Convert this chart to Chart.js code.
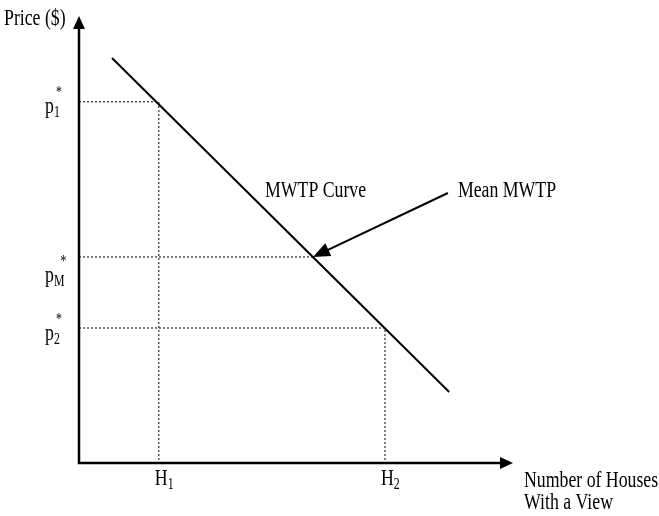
<!DOCTYPE html>
<html>
<head>
<meta charset="utf-8">
<script src="https://cdn.jsdelivr.net/npm/chart.js@4.4.0/dist/chart.umd.min.js"></script>
<style>
  body { margin: 0; background: #fff; }
  canvas { display: block; }
</style>
</head>
<body>
<canvas id="myChart" width="659" height="516"></canvas>
<script>
// the MWTP curve, two ends
const curveX = [0.76, 8.53];
const curveY = [9.06, 1.59];
// quantities on the x axis
const hValues = [1.84, 7.05];
const hSubs = ["1", "2"];
// prices on the y axis (p1, pM, p2)
const pValues = [8.08, 4.61, 3.02];
const pSubs = ["1", "M", "2"];
// where the mean MWTP sits on the curve
const meanX = 5.39;
const meanP = 4.61;
// start of the pointer arrow
const arrowFrom = [8.5, 6.04];

const FONT = '"Liberation Serif", "Times New Roman", serif';
const SQUEEZE = 0.74;

// draws text a bit narrower, like the original
function drawText(ctx, str, x, y, size) {
  ctx.save();
  ctx.translate(x, y);
  ctx.scale(SQUEEZE, 1);
  ctx.font = size + "px " + FONT;
  ctx.textBaseline = "alphabetic";
  ctx.textAlign = "left";
  ctx.fillText(str, 0, 0);
  const w = ctx.measureText(str).width * SQUEEZE;
  ctx.restore();
  return w;
}

function arrowHead(ctx, x1, y1, x2, y2, len, half) {
  const a = Math.atan2(y2 - y1, x2 - x1);
  ctx.beginPath();
  ctx.moveTo(x2, y2);
  ctx.lineTo(x2 - len * Math.cos(a) + half * Math.sin(a), y2 - len * Math.sin(a) - half * Math.cos(a));
  ctx.lineTo(x2 - len * Math.cos(a) - half * Math.sin(a), y2 - len * Math.sin(a) + half * Math.cos(a));
  ctx.closePath();
  ctx.fill();
}

// axes, arrows and labels
const diagramPlugin = {
  id: "diagram",
  afterDatasetsDraw(chart) {
    const ctx = chart.ctx;
    const xs = chart.scales.x;
    const ys = chart.scales.y;
    const a = chart.chartArea;
    ctx.save();
    ctx.fillStyle = "#000";
    ctx.strokeStyle = "#000";

    // axes
    ctx.lineWidth = 2.5;
    ctx.beginPath();
    ctx.moveTo(a.left, a.top + 10);
    ctx.lineTo(a.left, a.bottom);
    ctx.lineTo(a.right - 10, a.bottom);
    ctx.stroke();
    arrowHead(ctx, a.left, a.bottom, a.left, a.top, 13, 6);
    arrowHead(ctx, a.left, a.bottom, a.right, a.bottom, 13, 6);

    // pointer to the mean
    const fx = xs.getPixelForValue(arrowFrom[0]);
    const fy = ys.getPixelForValue(arrowFrom[1]);
    const tx = xs.getPixelForValue(meanX);
    const ty = ys.getPixelForValue(meanP);
    ctx.lineWidth = 2;
    ctx.beginPath();
    ctx.moveTo(fx, fy);
    const ang = Math.atan2(ty - fy, tx - fx);
    ctx.lineTo(tx - 12 * Math.cos(ang), ty - 12 * Math.sin(ang));
    ctx.stroke();
    arrowHead(ctx, fx, fy, tx, ty, 17, 7);

    // text labels
    drawText(ctx, "Price ($)", 4, 25, 24);
    drawText(ctx, "MWTP Curve", 265, 197, 24);
    drawText(ctx, "Mean MWTP", fx + 10, 197, 24);
    drawText(ctx, "Number of Houses", 524, 487, 24);
    drawText(ctx, "With a View", 524, 509, 24);

    // x tick labels H1, H2
    hValues.forEach((v, i) => {
      const px = xs.getPixelForValue(v);
      const w = drawText(ctx, "H", px - 4, a.bottom + 22, 24);
      drawText(ctx, hSubs[i], px - 4 + w, a.bottom + 26, 16);
    });

    // y tick labels p1*, pM*, p2*
    const drops = [11, 25, 12];
    pValues.forEach((v, i) => {
      const py = ys.getPixelForValue(v) + drops[i];
      const w = drawText(ctx, "p", 45, py, 24);
      const ws = drawText(ctx, pSubs[i], 45 + w, py + 4, 16);
      drawText(ctx, "*", 45 + w + Math.max(ws - 4, 2), py - 16, 16);
    });
    ctx.restore();
  },
};

function guide(points) {
  return {
    data: points,
    borderColor: "#000",
    borderWidth: 1,
    borderDash: [2, 2],
    pointRadius: 0,
    fill: false,
  };
}

const ctx = document.getElementById("myChart").getContext("2d");
const myChart = new Chart(ctx, {
  type: "line",
  data: {
    datasets: [
      {
        // the MWTP curve
        data: curveX.map((x, i) => ({ x: x, y: curveY[i] })),
        borderColor: "#000",
        borderWidth: 2,
        pointRadius: 0,
        fill: false,
      },
      guide([{ x: 0, y: pValues[0] }, { x: hValues[0], y: pValues[0] }, { x: hValues[0], y: 0 }]),
      guide([{ x: 0, y: pValues[2] }, { x: hValues[1], y: pValues[2] }, { x: hValues[1], y: 0 }]),
      guide([{ x: 0, y: pValues[1] }, { x: meanX, y: pValues[1] }]),
    ],
  },
  options: {
    responsive: false,
    animation: false,
    layout: { padding: { left: 79, top: 16, right: 146, bottom: 53 } },
    scales: {
      x: { type: "linear", min: 0, max: 10, display: false },
      y: { type: "linear", min: 0, max: 10, display: false },
    },
    plugins: {
      legend: { display: false },
      tooltip: { enabled: false },
    },
  },
  plugins: [diagramPlugin],
});
</script>
</body>
</html>
